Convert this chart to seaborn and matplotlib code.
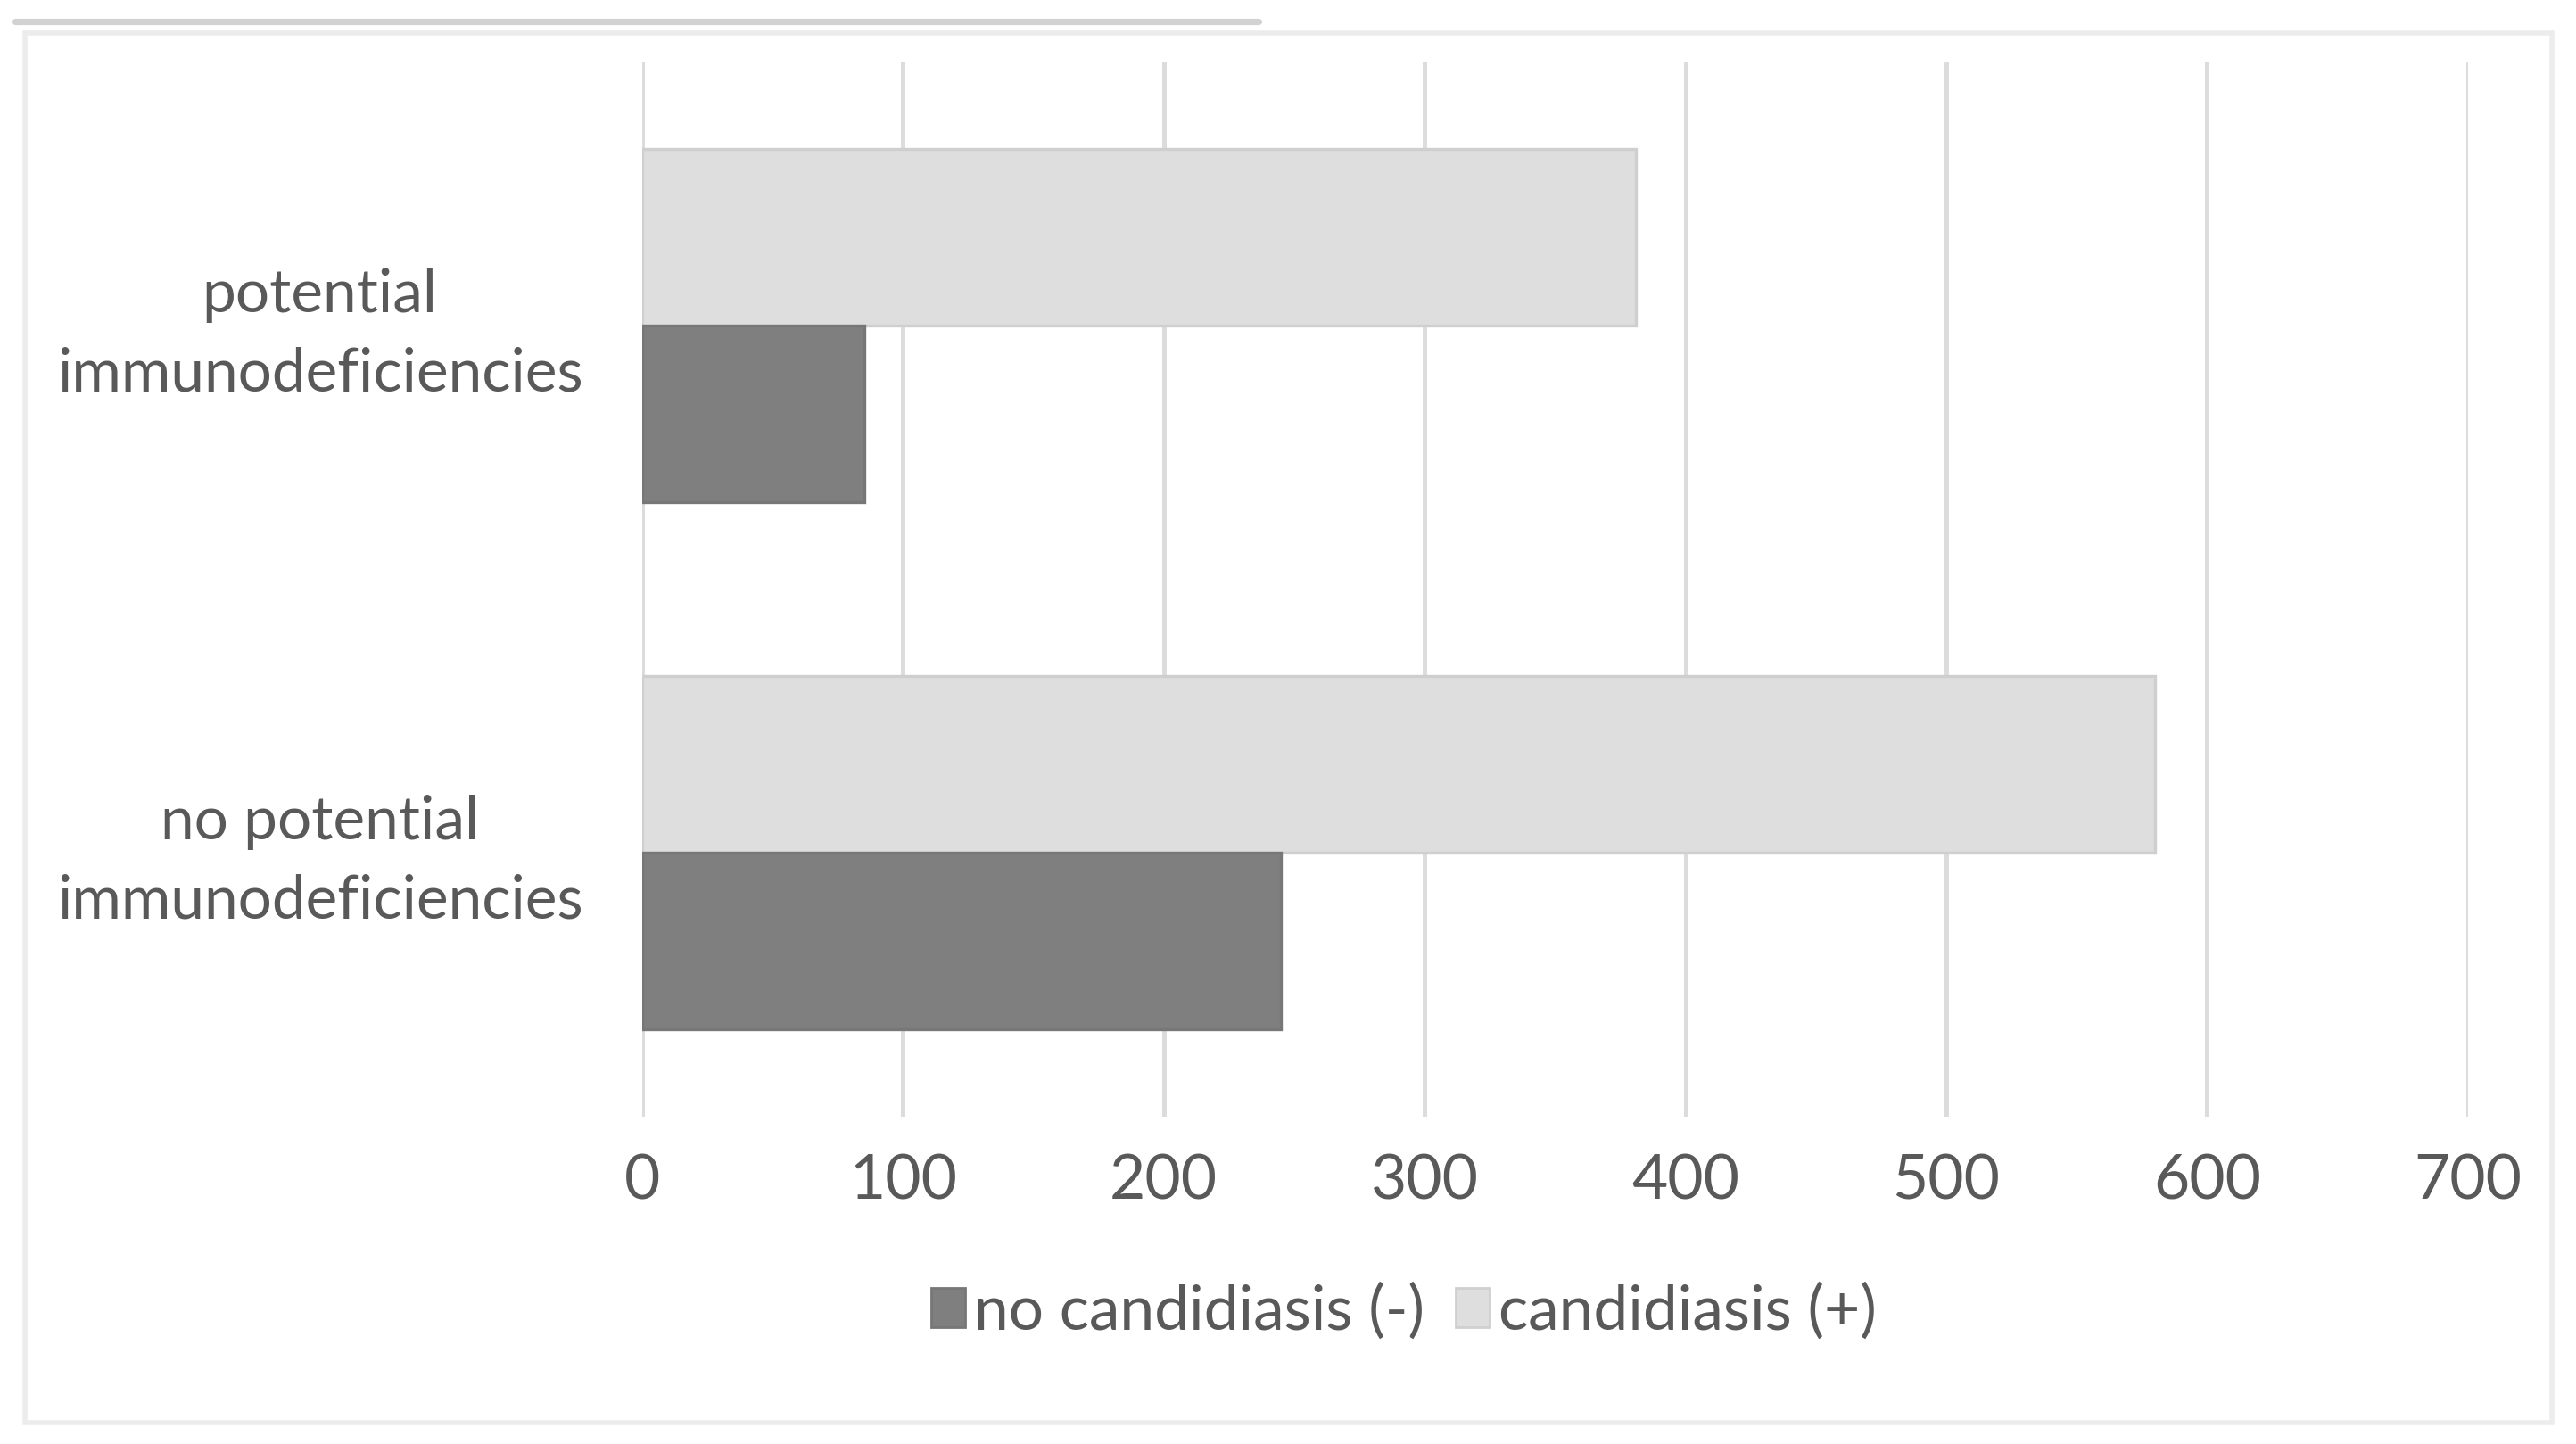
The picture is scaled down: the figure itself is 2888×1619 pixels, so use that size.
import pandas as pd
import seaborn as sns
import matplotlib.pyplot as plt
import matplotlib.transforms as mtransforms
from matplotlib.patches import Patch, Rectangle
from matplotlib.lines import Line2D

# values
groups = ['potential\nimmunodeficiencies', 'no potential\nimmunodeficiencies']
candidiasis_pos = [381, 580]
candidiasis_neg = [85, 245]
series_names = ['no candidiasis (-)', 'candidiasis (+)']
xticks = [0, 100, 200, 300, 400, 500, 600, 700]

dark = '#7f7f7f'
light = '#dedede'
text_col = '#595959'

# long format table for seaborn
data = pd.DataFrame({
    'group': groups * 2,
    'series': [series_names[1]] * 2 + [series_names[0]] * 2,
    'count': candidiasis_pos + candidiasis_neg,
})

sns.set_theme(style='white')
plt.rcParams['font.family'] = ['Lato', 'DejaVu Sans']

fig = plt.figure(figsize=(14.44, 8.095), dpi=200)
ax = fig.add_axes([0.2493, 0.2267, 0.7087, 0.7301])

sns.barplot(data=data, y='group', x='count', hue='series', order=groups,
            hue_order=[series_names[1], series_names[0]],
            palette={series_names[0]: dark, series_names[1]: light},
            width=0.67, orient='h', ax=ax, legend=False, saturation=1)

for bar in ax.patches:
    fc = bar.get_facecolor()
    bar.set_edgecolor('#cfcfcf' if fc[0] > 0.7 else '#777777')
    bar.set_linewidth(1.2)

ax.set_xlim(0, 700)
ax.set_ylim(1.5, -0.5)
ax.set_xticks(xticks)
ax.set_xticklabels([str(t) for t in xticks])
ax.grid(axis='x', color='#dcdcdc', linewidth=1.8)
ax.set_axisbelow(True)
for s in ax.spines.values():
    s.set_visible(False)
ax.set_xlabel('')
ax.set_ylabel('')
ax.tick_params(axis='x', labelsize=25, colors=text_col, pad=15, length=0)
ax.tick_params(axis='y', labelsize=24.3, colors=text_col, pad=24, length=0)
shift_up = mtransforms.ScaledTranslation(0, 0.045, fig.dpi_scale_trans)
for lab in ax.get_yticklabels():
    lab.set_multialignment('center')
    lab.set_linespacing(1.52)
    lab.set_transform(lab.get_transform() + shift_up)

handles = [Patch(facecolor=dark, edgecolor='#777777'),
           Patch(facecolor=light, edgecolor='#cfcfcf')]
fig.legend(handles, series_names, loc='center', bbox_to_anchor=(0.545, 0.092),
           ncol=2, frameon=False, fontsize=25, handlelength=0.55,
           handleheight=0.6, handletextpad=0.15, columnspacing=0.5,
           labelcolor=text_col)

# outer chart-area frame and the cropped line at the top
fig.patches.append(Rectangle((0.0097, 0.0148), 0.9810, 0.9624, transform=fig.transFigure,
                             fill=False, edgecolor='#ececec', linewidth=2.0))
fig.lines.append(Line2D([0.006, 0.4886], [0.985, 0.985], transform=fig.transFigure,
                        color='#d2d2d2', linewidth=2.6))

fig.savefig('out.png', dpi=200, facecolor='white')
